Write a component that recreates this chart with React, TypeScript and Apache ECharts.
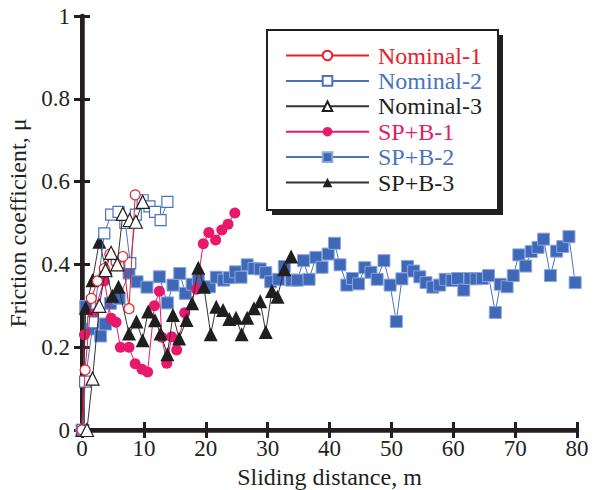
import React, { useEffect, useRef } from "react";
import * as echarts from "echarts";

const xTicks = [0, 10, 20, 30, 40, 50, 60, 70, 80];
const yTicks = [0, 0.2, 0.4, 0.6, 0.8, 1];

const seriesNames = ["Nominal-1", "Nominal-2", "Nominal-3", "SP+B-1", "SP+B-2", "SP+B-3"];

const nominal1: number[][] = [
  [0, 0], [0.5, 0.145], [1.5, 0.318], [2.5, 0.36], [3.6, 0.39], [4.5, 0.425],
  [5.5, 0.405], [6.6, 0.419], [7.6, 0.293], [8.6, 0.568],
];

const nominal2: number[][] = [
  [0.2, 0], [0.5, 0.117], [1.8, 0.26], [3.6, 0.475], [4.7, 0.52], [5.9, 0.527],
  [7.0, 0.5], [7.8, 0.403], [8.7, 0.52], [9.8, 0.555], [10.9, 0.54], [11.8, 0.527],
  [12.7, 0.507], [13.8, 0.551],
];

const nominal3: number[][] = [
  [0.8, 0], [1.7, 0.124], [2.8, 0.3], [3.8, 0.386], [4.7, 0.428], [5.7, 0.4],
  [6.6, 0.522], [7.7, 0.507], [8.7, 0.503], [9.8, 0.551],
];

const spb1: number[][] = [
  [0, 0], [0.4, 0.23], [1.8, 0.28], [3.6, 0.36], [4.7, 0.27], [5.5, 0.26],
  [6.2, 0.2], [7.6, 0.2], [8.6, 0.16], [9.7, 0.147], [10.6, 0.14], [11.7, 0.3],
  [12.5, 0.335], [12.9, 0.224], [13.7, 0.161], [14.5, 0.225], [15.3, 0.193],
  [16.6, 0.283], [18.5, 0.34], [19.6, 0.45], [20.5, 0.477], [21.6, 0.459],
  [22.6, 0.483], [23.6, 0.497], [24.7, 0.524],
];

const spb2: number[][] = [
  [0, 0], [0.6, 0.298], [1.6, 0.244], [3.0, 0.227], [3.8, 0.256], [4.6, 0.306],
  [6.0, 0.318], [7.6, 0.379], [8.9, 0.358], [10.5, 0.345], [12.5, 0.37], [13.8, 0.307],
  [14.7, 0.35], [15.8, 0.378], [16.7, 0.33], [17.8, 0.352], [18.8, 0.362], [20.6, 0.346],
  [21.7, 0.369], [22.9, 0.362], [23.8, 0.368], [24.8, 0.382], [25.7, 0.369], [26.7, 0.399],
  [27.8, 0.39], [28.8, 0.389], [29.7, 0.38], [30.5, 0.358], [31.8, 0.364], [32.7, 0.395],
  [33.9, 0.362], [34.8, 0.362], [35.8, 0.409], [36.7, 0.364], [37.8, 0.417], [38.8, 0.393],
  [39.8, 0.425], [40.8, 0.451], [41.7, 0.399], [42.8, 0.35], [43.7, 0.366], [44.7, 0.353],
  [45.7, 0.392], [46.7, 0.381], [47.7, 0.364], [48.8, 0.409], [49.8, 0.35], [50.8, 0.262],
  [51.7, 0.365], [52.6, 0.395], [53.6, 0.384], [54.6, 0.37], [55.6, 0.356], [56.7, 0.345],
  [57.8, 0.35], [58.7, 0.364], [59.8, 0.361], [60.7, 0.366], [61.7, 0.338], [62.7, 0.366],
  [63.7, 0.365], [64.7, 0.366], [65.7, 0.373], [66.8, 0.284], [67.6, 0.352], [68.7, 0.346],
  [69.7, 0.373], [70.6, 0.423], [71.7, 0.396], [72.6, 0.431], [73.7, 0.441], [74.6, 0.461],
  [75.7, 0.373], [76.7, 0.432], [77.7, 0.443], [78.7, 0.467], [79.7, 0.356],
];

const spb3: number[][] = [
  [0, 0], [0.6, 0.295], [1.7, 0.362], [2.8, 0.455], [3.8, 0.392], [4.9, 0.324],
  [5.9, 0.346], [7.6, 0.233], [8.8, 0.262], [9.8, 0.217], [10.7, 0.286], [11.8, 0.265],
  [12.7, 0.233], [13.8, 0.183], [14.7, 0.278], [15.7, 0.221], [16.9, 0.266], [17.8, 0.306],
  [18.8, 0.392], [19.7, 0.346], [20.8, 0.231], [21.7, 0.298], [22.8, 0.29], [23.8, 0.268],
  [24.9, 0.271], [25.8, 0.231], [26.7, 0.271], [27.8, 0.294], [28.8, 0.311], [29.7, 0.237],
  [30.7, 0.336], [31.6, 0.322], [32.7, 0.388], [33.8, 0.419],
];

const FONT = '"Liberation Serif", "Times New Roman", serif';
const AXIS = "#231f20";

export default function App() {
  const ref = useRef<HTMLDivElement>(null);
  useEffect(() => {
    document.body.style.margin = "0";
    if (!ref.current) return;
    const chart = echarts.init(ref.current, undefined, { renderer: "svg" });

    const mk = (
      name: string,
      data: number[][],
      symbol: string,
      color: string,
      lineColor: string,
      filled: boolean,
      size: number,
      z: number,
      border?: string
    ) => ({
      name,
      type: "line",
      data,
      symbol,
      symbolSize: size,
      showAllSymbol: true,
      z,
      lineStyle: { color: lineColor, width: 1 },
      itemStyle: filled
        ? { color, borderColor: border || color, borderWidth: border ? 1 : 0 }
        : { color: "#ffffff", borderColor: color, borderWidth: 1.2 },
      emphasis: { disabled: true },
    });

    const legendColors: Record<string, string> = {
      "Nominal-1": "#e8202a",
      "Nominal-2": "#4a72c0",
      "Nominal-3": "#231f20",
      "SP+B-1": "#e8186a",
      "SP+B-2": "#4a72c0",
      "SP+B-3": "#231f20",
    };

    const legendText = { fontFamily: FONT, fontSize: 24, lineHeight: 25, padding: [0, 0, 0, 4] };

    chart.setOption({
      animation: false,
      grid: { left: 82, right: 22, top: 16, bottom: 60, containLabel: false, outerBoundsMode: "none" },
      graphic: [
        { type: "rect", z: 50, shape: { x: 272, y: 35, width: 231, height: 180 }, style: { fill: "#231f20" } },
        { type: "rect", z: 51, shape: { x: 267, y: 30, width: 231, height: 180 }, style: { fill: "#ffffff", stroke: "#231f20", lineWidth: 2 } },
      ],
      legend: {
        orient: "vertical",
        left: 285,
        top: 43,
        padding: 0,
        z: 60,
        itemWidth: 83,
        itemHeight: 12,
        itemGap: 0.4,
        selectedMode: false,
        data: seriesNames.map((n) => ({
          name: n,
          textStyle: { ...legendText, color: legendColors[n] },
        })),
        textStyle: legendText,
      },
      xAxis: [
        {
          type: "value",
          min: 0,
          max: 80,
          interval: 10,
          name: "Sliding distance, m",
          nameLocation: "middle",
          nameGap: 19,
          nameTextStyle: { fontFamily: FONT, fontSize: 24, color: AXIS },
          axisLine: { lineStyle: { color: AXIS, width: 4.5 } },
          axisTick: { inside: true, length: 8, lineStyle: { color: AXIS, width: 3 } },
          axisLabel: { fontFamily: FONT, fontSize: 23, color: AXIS, margin: 7 },
          splitLine: { show: false },
        },
        {
          type: "value",
          position: "top",
          min: 0,
          max: 80,
          interval: 10,
          axisLine: { show: true, lineStyle: { color: AXIS, width: 4 } },
          axisTick: { show: true, inside: true, length: 8, lineStyle: { color: AXIS, width: 3 } },
          axisLabel: { show: false },
          splitLine: { show: false },
        },
      ],
      yAxis: [
        {
          type: "value",
          min: 0,
          max: 1,
          interval: 0.2,
          name: "Friction coefficient, μ",
          nameLocation: "middle",
          nameGap: 47,
          nameTextStyle: { fontFamily: FONT, fontSize: 24, color: AXIS },
          axisLine: { show: true, lineStyle: { color: AXIS, width: 4.5 } },
          axisTick: { show: true, inside: true, length: 8, lineStyle: { color: AXIS, width: 3 } },
          axisLabel: { fontFamily: FONT, fontSize: 23, color: AXIS, margin: 12 },
          splitLine: { show: false },
        },
        {
          type: "value",
          position: "right",
          min: 0,
          max: 1,
          interval: 0.2,
          axisLine: { show: true, lineStyle: { color: AXIS, width: 4 } },
          axisTick: { show: true, inside: true, length: 8, lineStyle: { color: AXIS, width: 3 } },
          axisLabel: { show: false },
          splitLine: { show: false },
        },
      ],
      series: [
        mk("SP+B-2", spb2, "rect", "#3f68b8", "#4a72c0", true, 12, 2, "#8aa6dc"),
        mk("SP+B-1", spb1, "circle", "#e8186a", "#e8186a", true, 11, 3),
        mk("SP+B-3", spb3, "triangle", "#1f1f1f", "#333333", true, 14, 4),
        mk("Nominal-2", nominal2, "rect", "#4a72c0", "#4a72c0", false, 11, 5),
        mk("Nominal-1", nominal1, "circle", "#e8202a", "#e8202a", false, 10, 6),
        mk("Nominal-3", nominal3, "triangle", "#231f20", "#333333", false, 13, 7),
      ],
    });
    return () => chart.dispose();
  }, []);
  return <div ref={ref} style={{ width: 599, height: 490 }} />;
}
